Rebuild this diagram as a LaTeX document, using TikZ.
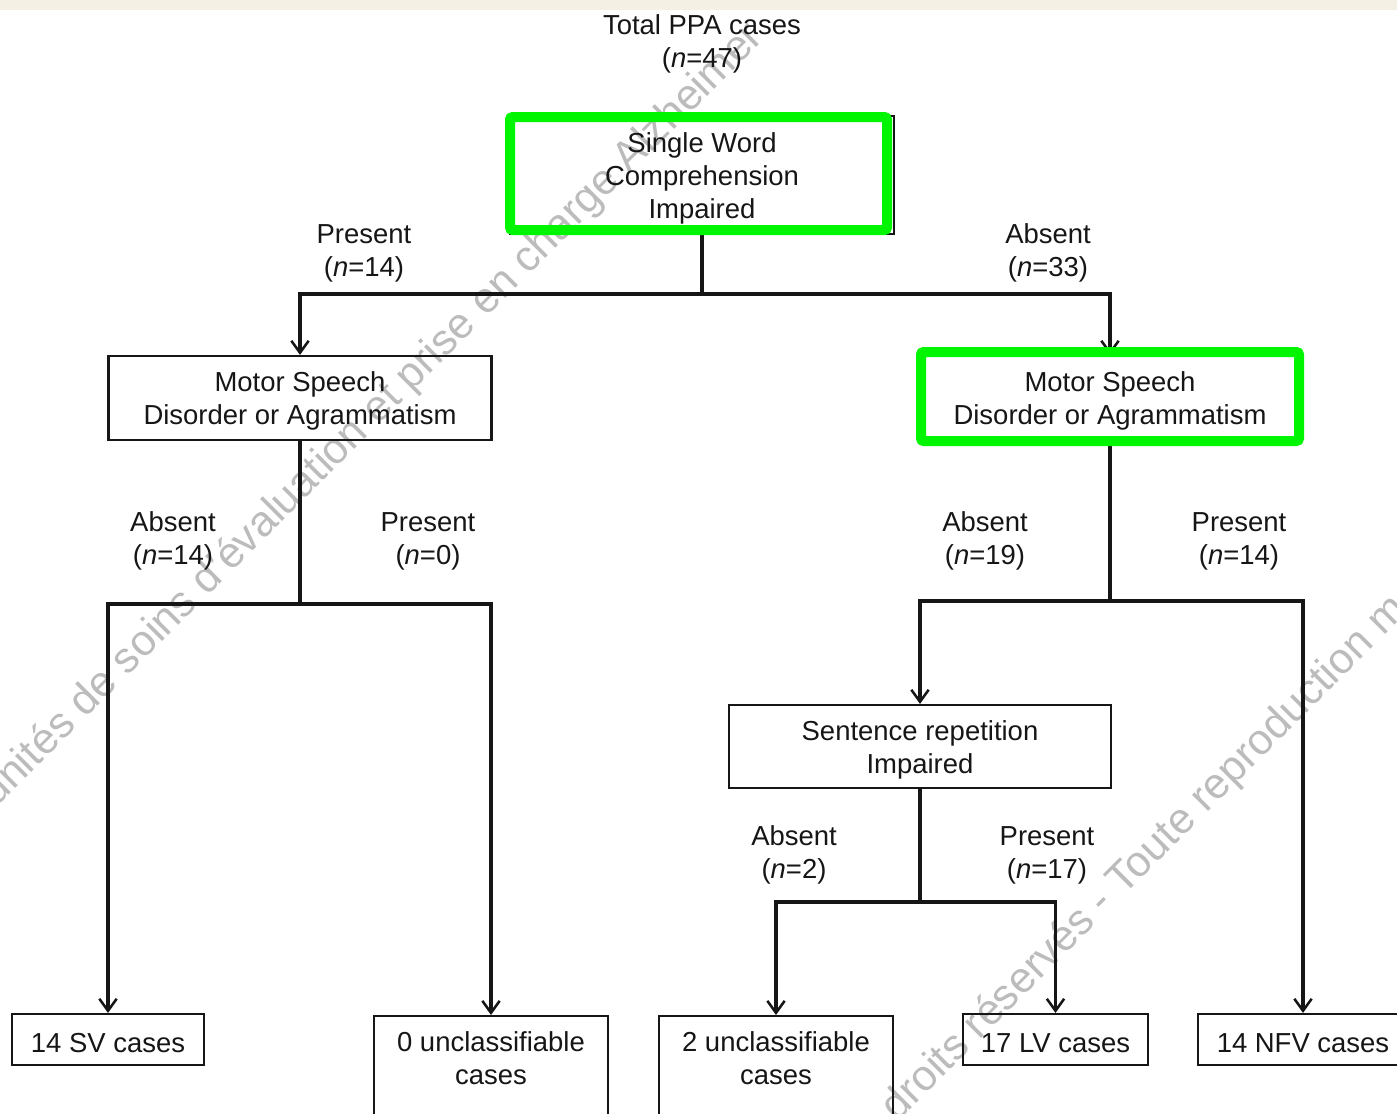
\documentclass[tikz,border=0pt]{standalone}
\usepackage{fontspec}
\setmainfont{Liberation Sans}
\usetikzlibrary{arrows.meta}
\definecolor{ink}{RGB}{22,22,22}
\definecolor{hl}{RGB}{0,245,0}
\definecolor{beige}{RGB}{244,241,228}
\definecolor{wm}{RGB}{188,188,188}
\newcommand{\fl}{\rule{0pt}{20pt}}
\begin{document}
\begin{tikzpicture}[x=0.75pt,y=-0.75pt,
  lbl/.style={font=\fontsize{20.6pt}{24.75pt}\selectfont, text=ink, align=center, inner sep=0pt},
  box/.style={lbl, draw=ink, line width=1.6pt},
  conn/.style={draw=ink, line width=2.3pt},
  arr/.style={conn, -{Straight Barb[length=9pt,width=13pt,line width=1.9pt]}},
  hlbox/.style={draw=hl, line width=7.5pt, rounded corners=2pt},
  wmark/.style={font=\fontsize{32.25pt}{36pt}\selectfont, text=wm, inner sep=0pt, rotate=45, anchor=base west}]
\useasboundingbox (0,0) rectangle (1397,1114);
\clip (0,0) rectangle (1397,1114);
\fill[white] (0,0) rectangle (1397,1114);
\fill[beige] (0,0) rectangle (1397,10);

% watermark
\node[wmark] (wm1) at (-4,808) {unités de soins d’évaluation et prise en charge Alzheimer};
\node[wmark] (wm2) at (897,1123) {droits réservés - Toute reproduction m};

% nodes
\node[lbl] (total) at (702,41) {\fl Total PPA cases\\(\textit{n}=47)};
\node[box, minimum width=288pt, minimum height=88.5pt] (swc) at (702,175) {\fl Single Word\\Comprehension\\Impaired};
\node[box, minimum width=287.25pt, minimum height=63pt] (msdL) at (300,398) {\fl Motor Speech\\Disorder or Agrammatism};
\node[box, minimum width=287.25pt, minimum height=63pt] (msdR) at (1110,398) {\fl Motor Speech\\Disorder or Agrammatism};
\node[box, minimum width=286.5pt, minimum height=62.25pt] (sr) at (920,746.5) {\fl Sentence repetition\\Impaired};
\node[box, minimum width=144pt, minimum height=38.25pt] (sv) at (108,1039.5) {\fl 14 SV cases};
\node[box, minimum width=175.5pt, minimum height=97.5pt, anchor=north] (u0) at (491,1015) {};
\node[lbl] (u0t) at (491,1055) {\fl 0 unclassifiable\\cases};
\node[box, minimum width=175.5pt, minimum height=97.5pt, anchor=north] (u2) at (776,1015) {};
\node[lbl] (u2t) at (776,1055) {\fl 2 unclassifiable\\cases};
\node[box, minimum width=138.75pt, minimum height=38.25pt] (lv) at (1055.5,1039.5) {\fl 17 LV cases};
\node[box, minimum width=157.5pt, minimum height=38.25pt] (nfv) at (1303,1039.5) {\fl 14 NFV cases};

% branch labels
\node[lbl] (l1) at (364,250) {\fl Present\\(\textit{n}=14)};
\node[lbl] (l2) at (1048,250) {\fl Absent\\(\textit{n}=33)};
\node[lbl] (l3) at (173,538) {\fl Absent\\(\textit{n}=14)};
\node[lbl] (l4) at (428,538) {\fl Present\\(\textit{n}=0)};
\node[lbl] (l5) at (985,538) {\fl Absent\\(\textit{n}=19)};
\node[lbl] (l6) at (1239,538) {\fl Present\\(\textit{n}=14)};
\node[lbl] (l7) at (794,852) {\fl Absent\\(\textit{n}=2)};
\node[lbl] (l8) at (1047,852) {\fl Present\\(\textit{n}=17)};

% connectors
\coordinate (j1) at (swc.south |- 0,294);
\draw[conn] (swc.south) -- (j1);
\draw[arr] (j1) -| (msdL.north);
\draw[arr] (j1) -| (msdR.north);

\coordinate (j2) at (msdL.south |- 0,604);
\draw[conn] (msdL.south) -- (j2);
\draw[arr] (j2) -| (sv.north);
\draw[arr] (j2) -| (u0.north);

\coordinate (j3) at (msdR.south |- 0,601);
\draw[conn] (msdR.south) -- (j3);
\draw[arr] (j3) -| (sr.north);
\draw[arr] (j3) -| (nfv.north);

\coordinate (j4) at (sr.south |- 0,902);
\draw[conn] (sr.south) -- (j4);
\draw[arr] (j4) -| (u2.north);
\draw[arr] (j4) -| (lv.north);

% green highlights
\draw[hlbox] (510,117) rectangle (887,230);
\draw[hlbox] (921,352) rectangle (1299,441);
\end{tikzpicture}
\end{document}
